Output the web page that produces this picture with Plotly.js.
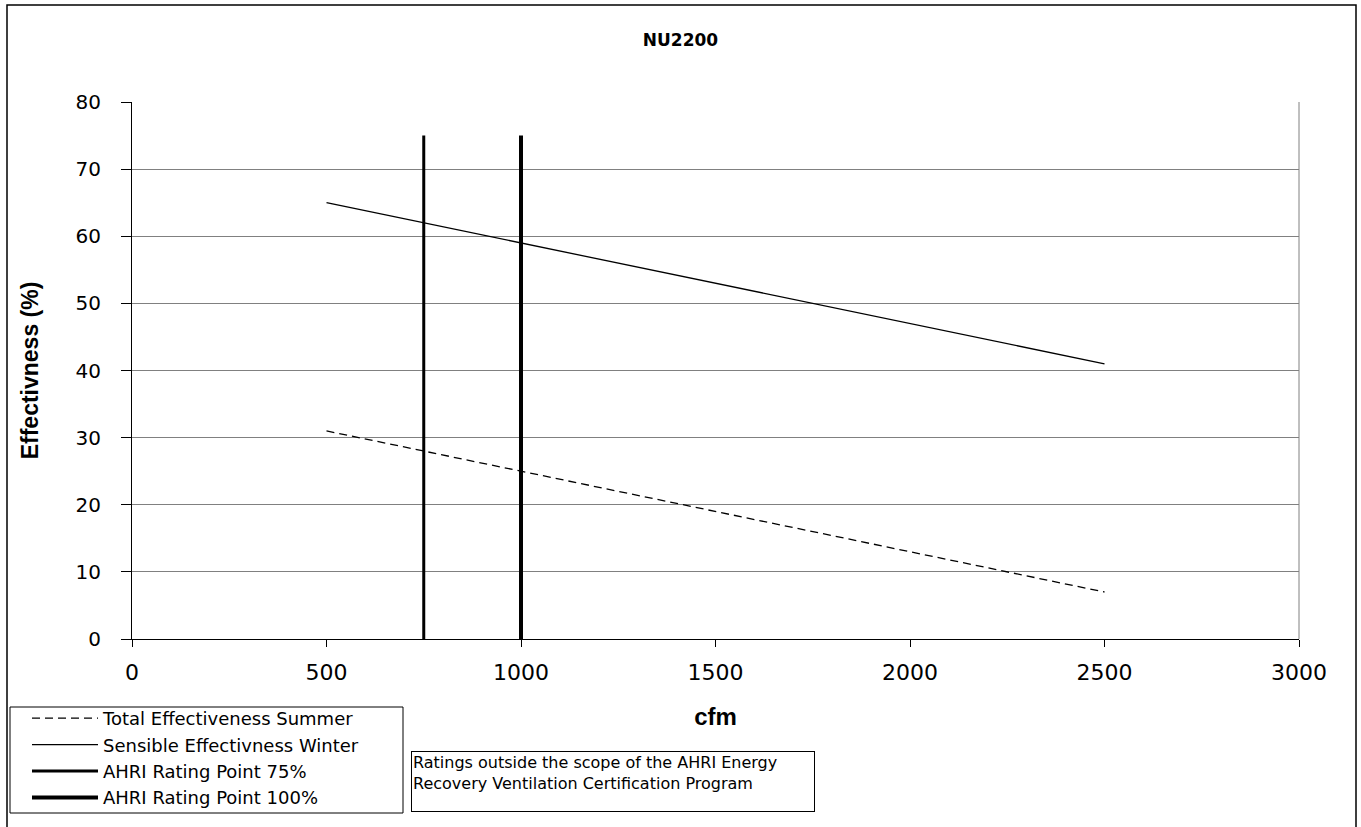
<!DOCTYPE html>
<html>
<head>
<meta charset="utf-8">
<script src="https://cdn.plot.ly/plotly-3.0.1.min.js"></script>
<style>html,body{margin:0;padding:0;background:#fff;}</style>
</head>
<body>
<div id="chart" style="width:1361px;height:827px;"></div>
<script>
// Data
const cfm = [500, 750, 1000, 1250, 1500, 1750, 2000, 2250, 2500];
const totalSummer = [31, 28, 25, 22, 19, 16, 13, 10, 7];
const sensibleWinter = [65, 62, 59, 56, 53, 50, 47, 44, 41];
const rating75X = [750, 750];
const rating75Y = [0, 75];
const rating100X = [1000, 1000];
const rating100Y = [0, 75];
const seriesNames = ["Total Effectiveness Summer", "Sensible Effectivness Winter", "AHRI Rating Point 75%", "AHRI Rating Point 100%"];
const xTicks = [0, 500, 1000, 1500, 2000, 2500, 3000];
const yTicks = [0, 10, 20, 30, 40, 50, 60, 70, 80];

const W = 1361, H = 827;
const L = 132, R = 62, T = 102, B = 188;
const pw = W - L - R, ph = H - T - B;
const px = v => (v - L) / pw;
const py = v => (H - B - v) / ph;

const traces = [
  {x: cfm, y: totalSummer, name: seriesNames[0], mode: "lines",
   line: {color: "#000", width: 1.3, dash: "8px,5px"}},
  {x: cfm, y: sensibleWinter, name: seriesNames[1], mode: "lines",
   line: {color: "#000", width: 1.3}},
  {x: rating75X, y: rating75Y, name: seriesNames[2], mode: "lines",
   line: {color: "#000", width: 3}},
  {x: rating100X, y: rating100Y, name: seriesNames[3], mode: "lines",
   line: {color: "#000", width: 4}}
];

const layout = {
  width: W, height: H,
  margin: {l: L, r: R, t: T, b: B, pad: 0, autoexpand: false},
  paper_bgcolor: "#fff", plot_bgcolor: "#fff",
  font: {family: "DejaVu Sans, Arial, sans-serif", color: "#000"},
  title: {text: "<b>NU2200</b>", font: {size: 17, family: "DejaVu Sans, Arial, sans-serif"},
          xref: "container", x: 0.5, xanchor: "center", yref: "container", y: 1 - 40 / H, yanchor: "middle"},
  showlegend: true,
  legend: {x: px(27), y: py(700), xanchor: "left", yanchor: "top",
           borderwidth: 0, bgcolor: "rgba(0,0,0,0)",
           font: {size: 18, family: "DejaVu Sans, Arial, sans-serif"},
           itemwidth: 66, tracegroupgap: 0},
  xaxis: {range: [0, 3000], tickvals: xTicks, ticktext: xTicks.map(String),
          ticks: "outside", ticklen: 7, tickcolor: "#000", ticklabelstandoff: 7,
          showline: true, linecolor: "#000", linewidth: 1, showgrid: false, zeroline: false,
          tickfont: {size: 22, family: "DejaVu Sans, Arial, sans-serif"},
          title: {text: "<b>cfm</b>", font: {size: 24, family: "Liberation Sans, Arial, sans-serif"}, standoff: 23},
          fixedrange: true},
  yaxis: {range: [0, 80], tickvals: yTicks, ticktext: yTicks.map(String),
          ticks: "outside", ticklen: 10, tickcolor: "#000", ticklabelstandoff: 16,
          showline: true, linecolor: "#000", linewidth: 1,
          showgrid: true, gridcolor: "#808080", gridwidth: 1, zeroline: false,
          tickfont: {size: 20, family: "DejaVu Sans, Arial, sans-serif"},
          title: {text: "<b>Effectivness (%)</b>", font: {size: 23, family: "Liberation Sans, Arial, sans-serif"}, standoff: 30},
          fixedrange: true},
  shapes: [
    {type: "rect", xref: "paper", yref: "paper", x0: px(7), x1: px(1356), y0: py(832), y1: py(5),
     line: {color: "#000", width: 1.5}, fillcolor: "rgba(0,0,0,0)"},
    {type: "rect", xref: "paper", yref: "paper", x0: px(10), x1: px(403), y0: py(813), y1: py(707),
     line: {color: "#000", width: 1}, fillcolor: "rgba(0,0,0,0)"},
    {type: "line", xref: "paper", yref: "paper", x0: 1, x1: 1, y0: 0, y1: 1,
     line: {color: "#808080", width: 1}}
  ],
  annotations: [
    {xref: "paper", yref: "paper", x: px(411), y: py(751), xanchor: "left", yanchor: "top",
     text: "Ratings outside the scope of the AHRI Energy<br>Recovery Ventilation Certification Program",
     showarrow: false, align: "left", valign: "top", width: 400, height: 57,
     bordercolor: "#000", borderwidth: 1, borderpad: 1, bgcolor: "#fff",
     font: {size: 16, family: "DejaVu Sans, Arial, sans-serif", color: "#000"}}
  ]
};

Plotly.newPlot("chart", traces, layout, {displayModeBar: false, staticPlot: true});
</script>
</body>
</html>
